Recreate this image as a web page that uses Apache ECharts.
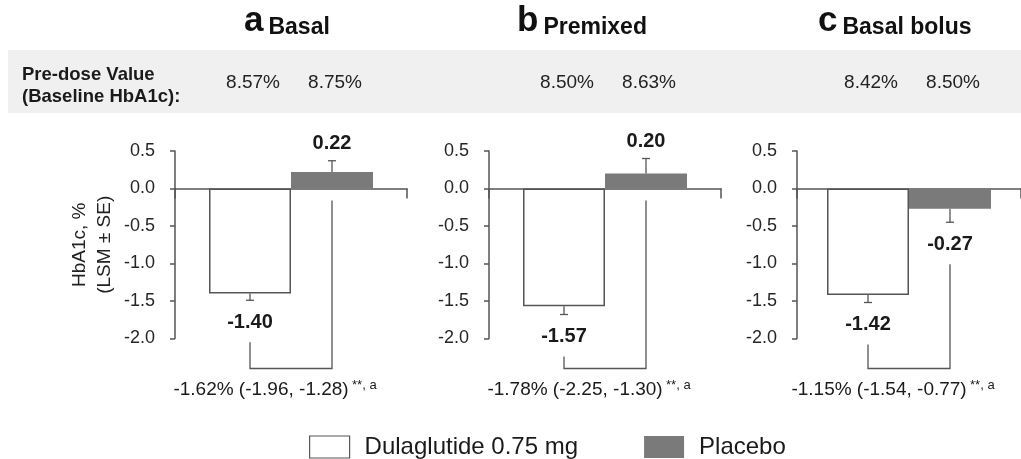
<!DOCTYPE html>
<html><head><meta charset="utf-8">
<script src="https://cdn.jsdelivr.net/npm/echarts@6/dist/echarts.min.js"></script>
<style>html,body{margin:0;padding:0;background:#fff}#c{width:1021px;height:459px}</style>
</head><body><div id="c"></div>
<script>
// ---- data ----
const panelLetters = ['a', 'b', 'c'];
const panelNames = ['Basal', 'Premixed', 'Basal bolus'];
const seriesNames = ['Dulaglutide 0.75 mg', 'Placebo'];
const baselineDula = [8.57, 8.50, 8.42];
const baselinePlacebo = [8.75, 8.63, 8.50];
const lsmDula = [-1.40, -1.57, -1.42];
const lsmPlacebo = [0.22, 0.20, -0.27];
const seDula = [0.09, 0.11, 0.10];
const sePlacebo = [0.15, 0.20, 0.18];
const diffLsm = [-1.62, -1.78, -1.15];
const ciLow = [-1.96, -2.25, -1.54];
const ciHigh = [-1.28, -1.30, -0.77];
const diffNote = '**, a';
const yTicks = [-2.0, -1.5, -1.0, -0.5, 0.0, 0.5];
const yAxisTitle = 'HbA1c, %\n(LSM ± SE)';
const baselineTitle = ['Pre-dose Value', '(Baseline HbA1c):'];

// ---- layout / style ----
const FONT = '"Liberation Sans", Arial, sans-serif';
const AX = '#555';
const TXT = '#1a1a1a';
const GRAY = '#7a7a7a';
const gridLefts = [175, 489, 797];
const titleLefts = [244, 517, 818];
const GTOP = 151, GW = 232, GH = 187.5;
const yMin = yTicks[0], yMax = yTicks[yTicks.length - 1];
const yStep = yTicks[1] - yTicks[0];

function makeRender(i) {
  return function (params, api) {
    const c0 = api.coord([0, 0]);
    const cx = c0[0], y0 = c0[1];
    const half = 41;
    const xs = [cx - half, cx + half];
    const vals = [lsmDula[i], lsmPlacebo[i]];
    const ses = [seDula[i], sePlacebo[i]];
    const bases = [baselineDula[i], baselinePlacebo[i]];
    const yBottom = api.coord([0, yMin])[1];
    const yTop = api.coord([0, yMax])[1];
    const ch = [];
    const labelY = [];
    for (let k = 0; k < 2; k++) {
      const v = vals[k];
      const s = v < 0 ? -1 : 1;
      const yb = api.coord([0, v])[1];
      const yc = api.coord([0, v + s * ses[k]])[1];
      ch.push({type: 'line', shape: {x1: xs[k], y1: yb, x2: xs[k], y2: yc},
        style: {stroke: AX, lineWidth: 1.3}});
      ch.push({type: 'line', shape: {x1: xs[k] - 4, y1: yc, x2: xs[k] + 4, y2: yc},
        style: {stroke: AX, lineWidth: 1.3}});
      const ly = s < 0 ? yc + 22 : yc - 17;
      labelY.push(ly);
      ch.push({type: 'text', style: {text: v.toFixed(2), x: xs[k], y: ly,
        align: 'center', verticalAlign: 'middle', fontSize: 20, fontWeight: 'bold',
        fontFamily: FONT, fill: TXT}});
      ch.push({type: 'text', style: {text: bases[k].toFixed(2) + '%', x: xs[k] + 3, y: yTop - 68,
        align: 'center', verticalAlign: 'middle', fontSize: 19,
        fontFamily: FONT, fill: '#222'}});
    }
    const leftTop = labelY[0] + 20;
    const rightTop = vals[1] > 0 ? y0 + 12 : labelY[1] + 20;
    const bot = yBottom + 30;
    ch.push({type: 'polyline', shape: {points: [[xs[0], leftTop], [xs[0], bot], [xs[1], bot], [xs[1], rightTop]]},
      style: {stroke: AX, lineWidth: 1.3, fill: null}});
    const txt = '{m|' + diffLsm[i].toFixed(2) + '% (' + ciLow[i].toFixed(2) + ', ' + ciHigh[i].toFixed(2) + ')} {s|' + diffNote + '}';
    ch.push({type: 'text', style: {text: txt, x: cx - 16, y: bot + 21,
      align: 'center', verticalAlign: 'middle', fontFamily: FONT, fill: TXT,
      rich: {m: {fontSize: 19, fontFamily: FONT, fill: TXT, lineHeight: 21},
             s: {fontSize: 13, fontFamily: FONT, fill: TXT, verticalAlign: 'top', lineHeight: 13}}}});
    return {type: 'group', children: ch};
  };
}

const grids = [], xAxes = [], yAxes = [], series = [], titles = [];
for (let i = 0; i < 3; i++) {
  grids.push({left: gridLefts[i], top: GTOP, width: GW, height: GH, containLabel: false});
  xAxes.push({type: 'category', gridIndex: i, data: [''], boundaryGap: true,
    axisLine: {onZero: true, lineStyle: {color: AX, width: 1.5}},
    axisTick: {show: true, length: 10, lineStyle: {color: AX, width: 1.5}},
    axisLabel: {show: false}, splitLine: {show: false}});
  yAxes.push({type: 'value', gridIndex: i, min: yMin, max: yMax, interval: yStep,
    name: i === 0 ? yAxisTitle : '', nameLocation: 'middle', nameRotate: 90, nameGap: 58,
    nameTextStyle: {fontSize: 19, lineHeight: 25, color: '#222', fontFamily: FONT, align: 'center'},
    axisLine: {show: true, lineStyle: {color: AX, width: 1.5}},
    axisTick: {show: true, length: 5, lineStyle: {color: AX, width: 1.5}},
    axisLabel: {fontSize: 18, color: '#262626', fontFamily: FONT, margin: 20,
      formatter: v => v.toFixed(1)},
    splitLine: {show: false}});
  series.push({type: 'bar', name: seriesNames[0], xAxisIndex: i, yAxisIndex: i,
    data: [lsmDula[i]], barWidth: 82, barGap: '0%',
    itemStyle: {color: '#fff', borderColor: AX, borderWidth: 1.5}});
  series.push({type: 'bar', name: seriesNames[1], xAxisIndex: i, yAxisIndex: i,
    data: [lsmPlacebo[i]], barWidth: 82, barGap: '0%',
    itemStyle: {color: GRAY}});
  series.push({type: 'custom', xAxisIndex: i, yAxisIndex: i, data: [[0, 0]],
    renderItem: makeRender(i), clip: false, z: 5, silent: true});
  titles.push({text: '{l|' + panelLetters[i] + '} {n|' + panelNames[i] + '}',
    left: titleLefts[i], top: 1, padding: 0,
    textStyle: {rich: {
      l: {fontSize: 35, fontWeight: 'bold', fontFamily: FONT, color: '#111', verticalAlign: 'bottom', lineHeight: 38},
      n: {fontSize: 23, fontWeight: 'bold', fontFamily: FONT, color: '#111', verticalAlign: 'bottom', lineHeight: 38}}}});
}

const chart = echarts.init(document.getElementById('c'), null, {renderer: 'canvas'});
chart.setOption({
  animation: false,
  backgroundColor: '#fff',
  title: titles,
  grid: grids, xAxis: xAxes, yAxis: yAxes, series: series,
  legend: {left: 304, top: 430, itemWidth: 40, itemHeight: 22, itemGap: 66,
    selectedMode: false, icon: 'rect',
    textStyle: {fontSize: 24, color: TXT, fontFamily: FONT, padding: [0, 0, 0, 10]},
    data: [{name: seriesNames[0], itemStyle: {color: '#fff', borderColor: AX, borderWidth: 1.2}},
           {name: seriesNames[1], itemStyle: {color: GRAY}}]},
  graphic: [
    {type: 'rect', left: 8, top: 50, shape: {width: 1013, height: 63}, style: {fill: '#f0f0f0'}, z: -10},
    {type: 'text', left: 22, top: 65, style: {text: baselineTitle[0], fontSize: 18.5, fontWeight: 'bold', fontFamily: FONT, fill: TXT}},
    {type: 'text', left: 22, top: 87, style: {text: baselineTitle[1], fontSize: 18.5, fontWeight: 'bold', fontFamily: FONT, fill: TXT}}
  ]
});
</script></body></html>
